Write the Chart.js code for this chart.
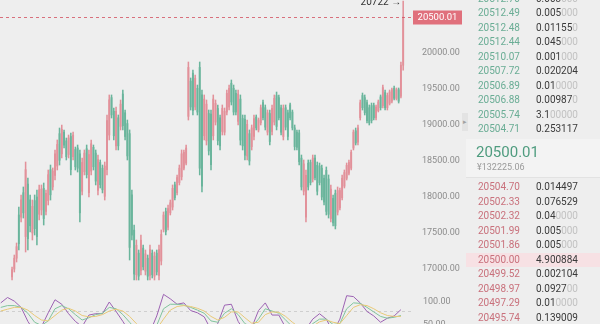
<!DOCTYPE html>
<html>
<head>
<meta charset="utf-8">
<script src="https://cdn.jsdelivr.net/npm/chart.js@4"></script>
<style>
  html, body { margin: 0; padding: 0; width: 600px; height: 324px; overflow: hidden; background: #eeeeee; font-family: Roboto, "Noto Sans", sans-serif; }
  #main { position: absolute; left: 0; top: 0; }
  #ind { position: absolute; left: 0; top: 288px; }
  #book { position: absolute; left: 466px; top: 0; width: 134px; height: 324px; }
  .row { position: absolute; left: 0; width: 134px; height: 14px; font-size: 10px; line-height: 14px; }
  .row .p { position: absolute; left: 12px; }
  .row .q { position: absolute; left: 70px; color: #3a3a3a; }
  .row .q i { font-style: normal; color: #c2c2c2; }
  .ask .p { color: #6aad95; }
  .bid .p { color: #c9717c; }
  .bid.hl { background: #f7e1e4; }
  #last { position: absolute; left: 0; top: 139px; width: 134px; height: 38px; background: #f3f3f3; border-bottom: 1px solid #e2e2e2; }
  #last .big { position: absolute; left: 10px; top: 4px; font-size: 15px; color: #4f9c7f; }
  #last .cny { position: absolute; left: 11px; top: 23px; font-size: 9px; color: #9a9a9a; }
  #handle { position: absolute; left: 462px; top: 113px; width: 6px; height: 18px; background: #e3e3e3; color: #a0a0a0; font-size: 7px; line-height: 18px; text-align: center; }
</style>
</head>
<body>
<canvas id="main" width="466" height="288"></canvas>
<canvas id="ind" width="466" height="52"></canvas>
<div id="handle">▸</div>
<div id="book"></div>
<script>
// K线数据 (open / high / low / close)
const opens = [
  16890,17000,17150,17750,17720,18060,17450,18180,17960,17500,
  17950,18000,17760,17820,18120,17800,17950,18380,18140,18300,
  18430,18880,18600,18900,18780,18590,18840,18560,18660,18680,
  18600,18080,18350,18670,18060,18360,18690,18610,18090,18480,
  18400,18010,18380,18860,19380,19190,18710,19100,18980,19430,
  19170,19020,18880,18030,17540,16920,17220,16980,17290,16970,
  17150,16910,17220,16900,17220,16910,17110,17550,17800,17580,
  17780,17860,18170,18060,18200,18280,18400,18470,19120,19610,
  19720,19250,19510,19800,19420,18850,18780,19160,19150,18850,
  19040,19230,19100,18910,18900,19180,19250,19580,19510,19440,
  19050,19360,19090,19080,18570,18880,18700,18840,19110,18930,
  19030,19310,19240,18900,19160,18910,19040,19410,19380,19240,
  18840,19240,19170,19280,19180,18960,18900,18890,18540,18080,
  17720,18470,18480,18250,18540,18440,18430,18400,18260,18370,
  18250,17700,17980,18050,17790,17850,17990,18150,18260,18330,
  18400,18680,18920,18760,19100,19410,19380,19310,19240,19270,
  19270,19100,19200,19390,19270,19450,19240,19300,19330,19510,
  19370,19490,19400,19830
];
const highs = [
  17028,17194,17361,17861,18028,18139,18486,18264,18028,17958,
  18028,18097,18167,18167,18194,18097,18375,18444,18403,18653,
  18792,18958,19000,18931,18819,18861,18889,18903,18694,18722,
  18653,18542,18653,18722,18653,18792,18722,18653,18583,18514,
  18444,18486,19139,19417,19417,19236,19250,19139,19347,19486,
  19208,19069,18931,18097,17611,17403,17264,17472,17333,17264,
  17194,17333,17264,17236,17264,17333,17542,17792,17847,17889,
  17958,18167,18208,18306,18444,18653,18653,18722,19875,19653,
  19764,19694,19555,19875,19486,19417,19347,19208,19208,19417,
  19347,19278,19139,19278,19236,19486,19555,19625,19555,19486,
  19486,19417,19139,19139,19069,18931,19000,19139,19139,19097,
  19278,19347,19278,19208,19208,19278,19417,19458,19417,19278,
  19278,19278,19208,19305,19208,19000,18931,18931,18583,18514,
  18375,18514,18514,18583,18583,18486,18472,18444,18306,18417,
  18306,18167,18028,18097,18139,18125,18306,18375,18472,18514,
  18653,18931,18958,19000,19347,19444,19417,19347,19278,19305,
  19305,19278,19347,19417,19555,19486,19444,19486,19514,19542,
  19514,19514,19875,20722
];
const lows = [
  16847,16958,17097,17264,17653,17708,17236,17264,17514,17403,
  17472,17333,17681,17750,17611,17750,17889,17958,18097,18236,
  18375,18444,18542,18681,18514,18542,18306,18514,18375,18347,
  17653,18028,18306,18264,18000,18306,18375,18167,18028,18125,
  18056,17958,18306,18792,19097,18792,18653,18653,18931,18931,
  18792,18514,17125,17403,16847,16847,16847,16917,16986,16917,
  16847,16847,16875,16847,16917,16847,17056,17514,17472,17542,
  17750,17819,17958,18028,18167,18236,18375,18444,19069,19208,
  19139,19208,19139,18306,18069,18792,18722,18583,18375,18792,
  19000,18722,18653,18861,18861,19139,19208,19278,19139,19139,
  19000,18722,18653,18514,18514,18444,18653,18792,18931,18903,
  19000,19069,18931,18861,18722,18861,19000,18931,19069,18861,
  18792,18931,18792,19069,18931,18653,18653,18444,18097,18028,
  17653,18097,18167,18208,18236,18028,18167,17958,17889,17750,
  17708,17653,17597,17556,17750,17819,17958,18125,18236,18306,
  18375,18653,18722,18722,19069,19208,19139,19028,19000,19028,
  19069,19069,19181,19208,19236,19208,19208,19278,19305,19347,
  19347,19305,19375,19760
];
const closes = [
  16990,17150,17310,17350,17960,17780,18380,17420,17600,17870,
  17560,17450,18100,18110,17700,18050,18310,18030,18360,18600,
  18730,18510,18940,18720,18560,18820,18380,18860,18420,18400,
  17780,18480,18610,18310,18590,18740,18420,18220,18520,18170,
  18100,18430,19060,19350,19140,18850,19190,18710,19290,18990,
  18840,18570,17300,17470,16930,17330,16900,17400,17030,17210,
  16900,17270,16920,17180,16960,17270,17480,17750,17520,17840,
  17920,18120,17990,18270,18400,18600,18620,18680,19800,19250,
  19200,19650,19180,18400,18150,19360,19290,18640,18450,19360,
  19300,18780,18710,19230,19190,19440,19510,19320,19180,19180,
  19430,18790,18710,18580,19010,18500,18960,19090,18960,19070,
  19240,19100,18970,19170,18770,19230,19370,18980,19100,18900,
  19230,18970,18840,19100,18960,18700,18690,18490,18140,18460,
  18300,18140,18200,18540,18270,18080,18200,18000,17930,17800,
  17760,18110,17640,17600,18090,18090,18260,18340,18440,18480,
  18620,18900,18750,18960,19310,19240,19170,19060,19030,19060,
  19100,19250,19320,19240,19520,19240,19410,19460,19490,19370,
  19490,19330,19830,20500.01
];
const priceTicks = [17000, 17500, 18000, 18500, 19000, 19500, 20000];

// 副图 KDJ, 每3根K线取一个点, 从第 -5 根开始
const indStart = -5;
const indStep = 3;
const jVals = [98,110,102,88,57,33,45,76,105,95,74,57,45,71,74,74,100,79,57,33,
  19,19,33,69,117,107,95,98,81,76,67,38,52,93,95,57,33,43,81,98,
  71,71,43,29,24,40,62,74,62,33,62,114,112,98,79,69,55,64,69,83];
const kVals = [88,92,92,88,75,55,48,58,85,92,85,72,60,65,72,75,88,85,72,55,
  38,30,32,48,85,95,95,93,88,82,75,58,55,75,85,72,52,45,62,85,
  80,75,60,45,35,38,52,62,62,50,52,85,98,97,88,78,68,64,66,70];
const dVals = [80,84,88,88,82,70,60,58,70,82,86,80,70,67,68,72,80,84,80,68,
  52,40,35,40,62,82,90,92,90,86,80,68,60,66,78,78,65,53,55,72,
  78,77,68,55,44,40,46,56,60,55,52,70,88,94,92,85,76,70,68,68];
const indTicks = [100, 50];
const indRefLine = 80;

// 盘口
const askPrices = ['20512.70','20512.49','20512.48','20512.44','20510.07','20507.72','20506.89','20506.88','20505.74','20504.71'];
const askQty = ['0.003000','0.005000','0.011550','0.045000','0.001000','0.020204','0.010000','0.009870','3.100000','0.253117'];
const bidPrices = ['20504.70','20502.33','20502.32','20501.99','20501.86','20500.00','20499.52','20498.97','20497.29','20495.74'];
const bidQty = ['0.014497','0.076529','0.040000','0.005000','0.005000','4.900884','0.002104','0.092700','0.010000','0.139009'];
const lastPrice = '20500.01';
const lastCny = '¥132225.06';

const UP = '#e2919a';
const DOWN = '#6ab59c';
const X_MIN = -5.33, X_MAX = 176.9;
const AXIS_W = 54;

const isUp = i => closes[i] >= opens[i];

const wickData = highs.map((h, i) => ({ x: i, y: [lows[i], h] }));
const bodyData = opens.map((o, i) => ({ x: i, y: [o, closes[i]] }));

// 右侧轴: 固定宽度, 去掉标签带来的上下留白
const fitAxis = axis => {
  axis.width = AXIS_W;
  axis.paddingTop = 0;
  axis.paddingBottom = 0;
};

const priceLinePlugin = {
  id: 'priceLine',
  afterDatasetsDraw(chart) {
    const { ctx, chartArea, scales: { x, y } } = chart;
    const last = closes[closes.length - 1];
    const py = Math.round(y.getPixelForValue(last)) + 0.5;
    ctx.save();
    ctx.strokeStyle = 'rgba(210, 80, 95, 0.8)';
    ctx.lineWidth = 1;
    ctx.setLineDash([3, 3]);
    ctx.beginPath();
    ctx.moveTo(chartArea.left, py);
    ctx.lineTo(chartArea.right, py);
    ctx.stroke();
    ctx.setLineDash([]);
    ctx.fillStyle = '#e0707c';
    ctx.fillRect(chartArea.right + 1, py - 7, 49, 14);
    ctx.fillStyle = '#ffffff';
    ctx.font = '9.5px Roboto';
    ctx.textAlign = 'center';
    ctx.textBaseline = 'middle';
    ctx.fillText(lastPrice, chartArea.right + 25.5, py + 0.5);
    // 最高价标记
    let hi = 0;
    highs.forEach((h, i) => { if (h > highs[hi]) hi = i; });
    const hx = x.getPixelForValue(hi);
    const hy = y.getPixelForValue(highs[hi]);
    ctx.fillStyle = '#333333';
    ctx.font = '10px Roboto';
    ctx.textAlign = 'right';
    ctx.fillText(highs[hi] + ' →', hx - 2, hy + 1);
    ctx.restore();
  }
};

new Chart(document.getElementById('main'), {
  type: 'bar',
  data: {
    datasets: [
      {
        data: wickData,
        barThickness: 0.9,
        grouped: false,
        backgroundColor: ctx => isUp(ctx.dataIndex) ? UP : DOWN
      },
      {
        data: bodyData,
        barThickness: 1.25,
        grouped: false,
        backgroundColor: ctx => isUp(ctx.dataIndex) ? UP : DOWN
      }
    ]
  },
  options: {
    responsive: false,
    animation: false,
    layout: { padding: 0, autoPadding: false },
    plugins: { legend: { display: false }, tooltip: { enabled: false } },
    scales: {
      x: { type: 'linear', min: X_MIN, max: X_MAX, display: false, offset: false },
      y: {
        position: 'right',
        min: 16736,
        max: 20736,
        grid: { display: false, drawTicks: false },
        border: { display: false },
        afterBuildTicks: axis => { axis.ticks = priceTicks.map(v => ({ value: v })); },
        afterFit: fitAxis,
        ticks: {
          padding: 10,
          crossAlign: 'near',
          color: '#8c8c8c',
          font: { family: 'Roboto', size: 9 },
          callback: v => Number(v).toFixed(2)
        }
      }
    }
  },
  plugins: [priceLinePlugin]
});

const refLinePlugin = {
  id: 'refLine',
  beforeDatasetsDraw(chart) {
    const { ctx, chartArea, scales: { y } } = chart;
    const py = Math.round(y.getPixelForValue(indRefLine)) + 0.5;
    ctx.save();
    ctx.strokeStyle = '#cfcfcf';
    ctx.setLineDash([3, 3]);
    ctx.beginPath();
    ctx.moveTo(chartArea.left, py);
    ctx.lineTo(chartArea.right, py);
    ctx.stroke();
    ctx.restore();
  }
};

const toPoints = arr => arr.map((v, k) => ({ x: indStart + k * indStep, y: v }));
const lineDs = (arr, color) => ({
  type: 'line', data: toPoints(arr), borderColor: color, borderWidth: 1,
  pointRadius: 0, tension: 0, fill: false
});

new Chart(document.getElementById('ind'), {
  type: 'line',
  data: {
    datasets: [
      lineDs(dVals, '#e8c977'),
      lineDs(kVals, '#80c49c'),
      lineDs(jVals, '#9c62b3')
    ]
  },
  options: {
    responsive: false,
    animation: false,
    layout: { padding: 0, autoPadding: false },
    plugins: { legend: { display: false }, tooltip: { enabled: false } },
    scales: {
      x: { type: 'linear', min: X_MIN, max: X_MAX, display: false },
      y: {
        position: 'right',
        min: 15.6,
        max: 131.1,
        grid: { display: false, drawTicks: false },
        border: { display: false },
        afterBuildTicks: axis => { axis.ticks = indTicks.map(v => ({ value: v })); },
        afterFit: fitAxis,
        ticks: {
          padding: 11,
          crossAlign: 'near',
          color: '#8c8c8c',
          font: { family: 'Roboto', size: 9 },
          callback: v => Number(v).toFixed(2)
        }
      }
    }
  },
  plugins: [refLinePlugin]
});

// 盘口列表
const book = document.getElementById('book');
function qtyHtml(q) {
  const m = q.match(/^(.*?)(0*)$/);
  return m[1] + '<i>' + m[2] + '</i>';
}
function addRow(cls, price, qty, top) {
  const row = document.createElement('div');
  row.className = 'row ' + cls;
  row.style.top = top + 'px';
  row.innerHTML = '<span class="p">' + price + '</span><span class="q">' + qtyHtml(qty) + '</span>';
  book.appendChild(row);
}
askPrices.forEach((p, i) => addRow('ask', p, askQty[i], -8.5 + i * 14.55));
const lastBox = document.createElement('div');
lastBox.id = 'last';
lastBox.innerHTML = '<span class="big">' + lastPrice + '</span><span class="cny">' + lastCny + '</span>';
book.appendChild(lastBox);
bidPrices.forEach((p, i) => addRow(p === '20500.00' ? 'bid hl' : 'bid', p, bidQty[i], 180 + i * 14.55));
</script>
</body>
</html>
